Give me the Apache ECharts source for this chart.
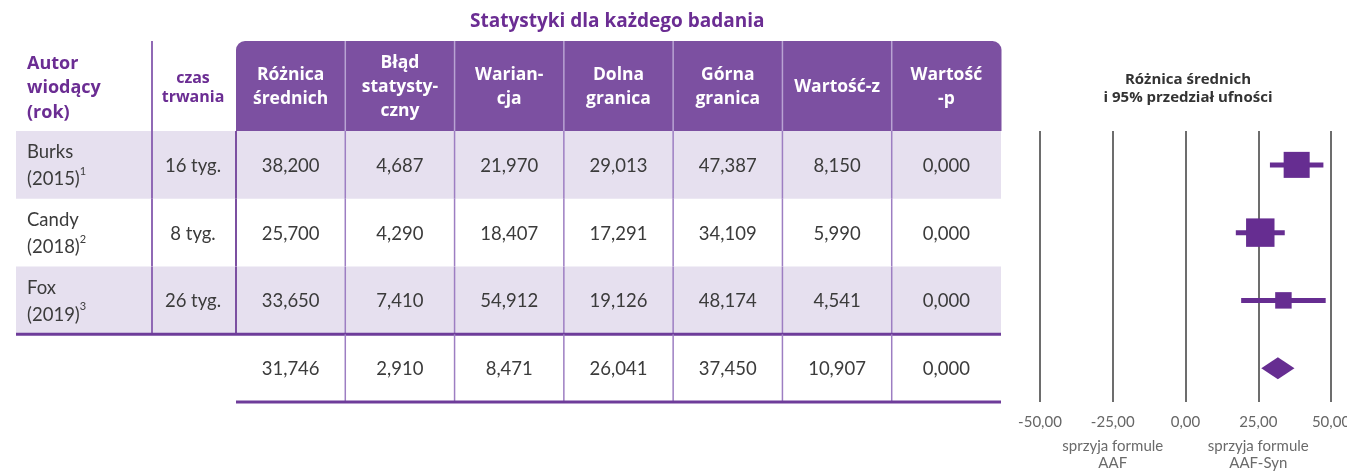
<!DOCTYPE html>
<html>
<head>
<meta charset="utf-8">
<script src="https://cdn.jsdelivr.net/npm/echarts@6/dist/echarts.min.js"></script>
<style>
  html, body { margin: 0; padding: 0; background: #fff; }
  #chart { width: 1347px; height: 473px; }
</style>
</head>
<body>
<div id="chart"></div>
<script>
  const authors = ['Burks', 'Candy', 'Fox']
  const years = ['(2015)', '(2018)', '(2019)']
  const refs = ['1', '2', '3']
  const durations = ['16 tyg.', '8 tyg.', '26 tyg.']
  const statHeaders = ['Różnica\nśrednich', 'Błąd\nstatysty-\nczny', 'Warian-\ncja', 'Dolna\ngranica', 'Górna\ngranica', 'Wartość-z', 'Wartość\n-p']
  // 3 studies + pooled row (last)
  const rowNames = ['Burks', 'Candy', 'Fox', 'pooled']
  const meanDiff = [38.200, 25.700, 33.650, 31.746]
  const stdErr = [4.687, 4.290, 7.410, 2.910]
  const variance = [21.970, 18.407, 54.912, 8.471]
  const lowerLimit = [29.013, 17.291, 19.126, 26.041]
  const upperLimit = [47.387, 34.109, 48.174, 37.450]
  const zValue = [8.150, 5.990, 4.541, 10.907]
  const pValue = [0.000, 0.000, 0.000, 0.000]
  const xTicks = [-50, -25, 0, 25, 50]
  const favourLabels = ['sprzyja formule\nAAF', 'sprzyja formule\nAAF-Syn']
  const favourAt = [-25, 25]

  const statColumns = [meanDiff, stdErr, variance, lowerLimit, upperLimit, zValue, pValue]

  const PURPLE = '#6b2d93'
  const HEAD = '#7c50a1'
  const STRIPE = '#e6e0ef'
  const FONT = 'Lato, "Open Sans", sans-serif'
  const BOLD = '"Open Sans", "Noto Sans", sans-serif'

  const fmt = (v, d) => v.toFixed(d).replace('.', ',')

  function renderHeader (params, api) {
    const c = api.value(0)
    const cs = params.coordSys
    const w = api.size([1, 0])[0]
    const cx = api.coord([c, 0])[0]
    const x0 = cx - w / 2
    const children = [
      {
        type: 'rect',
        shape: {x: x0, y: cs.y, width: w + 0.5, height: cs.height, r: c === 0 ? [9, 0, 0, 0] : (c === 6 ? [0, 9, 0, 0] : 0)},
        style: {fill: HEAD}
      },
      {
        type: 'text',
        style: {
          x: cx, y: cs.y + cs.height / 2 + 1, text: statHeaders[c], fill: '#fff',
          fontSize: 17.5, fontWeight: 'bold', fontFamily: BOLD, lineHeight: 24,
          align: 'center', verticalAlign: 'middle'
        }
      }
    ]
    if (c > 0) {
      children.push({
        type: 'line',
        shape: {x1: x0, y1: cs.y, x2: x0, y2: cs.y + cs.height},
        style: {stroke: '#b9a3d3', lineWidth: 1.5}
      })
    } else {
      children.push({
        type: 'text',
        style: {
          x: x0 - 209, y: cs.y + cs.height / 2 + 2, text: 'Autor\nwiodący\n(rok)', fill: PURPLE,
          fontSize: 18, fontWeight: 'bold', fontFamily: BOLD, lineHeight: 24.5,
          align: 'left', verticalAlign: 'middle'
        }
      }, {
        type: 'text',
        style: {
          x: x0 - 43, y: cs.y + cs.height / 2 + 2, text: 'czas\ntrwania', fill: PURPLE,
          fontSize: 16, fontWeight: 'bold', fontFamily: BOLD, lineHeight: 19,
          align: 'center', verticalAlign: 'middle'
        }
      }, {
        type: 'line',
        shape: {x1: x0 - 84, y1: cs.y, x2: x0 - 84, y2: cs.y + cs.height},
        style: {stroke: '#9069b5', lineWidth: 2}
      })
    }
    return {type: 'group', children: children}
  }

  function renderRow (params, api) {
    const row = api.value(1)
    const cs = params.coordSys
    const colW = api.size([1, 0])[0]
    const bandH = api.size([0, 1])[1]
    const cy = api.coord([0, row])[1]
    const top = cy - bandH / 2
    const bottom = cy + bandH / 2
    const tableLeft = cs.x - 220
    const right = cs.x + cs.width
    const children = []
    const study = row < authors.length

    if (study && row % 2 === 0) {
      children.push({
        type: 'rect',
        shape: {x: tableLeft, y: top, width: right - tableLeft, height: bandH},
        style: {fill: STRIPE}
      })
    }
    statColumns.forEach((col, c) => {
      children.push({
        type: 'text',
        style: {
          x: api.coord([c, row])[0], y: cy + 1, text: fmt(col[row], 3), fill: '#3b3b3b',
          fontSize: 18.5, fontFamily: FONT, align: 'center', verticalAlign: 'middle'
        }
      })
    })
    for (let c = 1; c < statColumns.length; c++) {
      const x = cs.x + colW * c
      children.push({
        type: 'line',
        shape: {x1: x, y1: top, x2: x, y2: bottom},
        style: {stroke: '#9d7ec2', lineWidth: 1.5}
      })
    }
    if (study) {
      children.push({
        type: 'text',
        style: {
          x: cs.x - 209, y: cy + 1,
          text: '{a|' + authors[row] + '}\n{a|' + years[row] + '}{s|' + refs[row] + '}',
          fill: '#3b3b3b', fontFamily: FONT, align: 'left', verticalAlign: 'middle',
          rich: {
            a: {fontSize: 18.5, lineHeight: 27, fontFamily: FONT, fill: '#3b3b3b', color: '#3b3b3b'},
            s: {fontSize: 11, lineHeight: 13, fontFamily: FONT, verticalAlign: 'top', fill: '#3b3b3b', color: '#3b3b3b'}
          }
        }
      }, {
        type: 'text',
        style: {
          x: cs.x - 43, y: cy + 1, text: durations[row], fill: '#3b3b3b',
          fontSize: 18.5, fontFamily: FONT, align: 'center', verticalAlign: 'middle'
        }
      }, {
        type: 'line',
        shape: {x1: cs.x - 84, y1: top, x2: cs.x - 84, y2: bottom},
        style: {stroke: '#9069b5', lineWidth: 2}
      }, {
        type: 'line',
        shape: {x1: cs.x, y1: top, x2: cs.x, y2: bottom},
        style: {stroke: '#7c50a1', lineWidth: 2}
      })
      if (row === authors.length - 1) {
        children.push({
          type: 'line',
          shape: {x1: tableLeft, y1: bottom, x2: right, y2: bottom},
          style: {stroke: '#6e3c9a', lineWidth: 3}
        })
      }
    } else {
      children.push({
        type: 'line',
        shape: {x1: cs.x, y1: bottom, x2: right, y2: bottom},
        style: {stroke: '#6e3c9a', lineWidth: 3}
      })
    }
    return {type: 'group', children: children}
  }

  function renderForest (params, api) {
    const i = params.dataIndex
    const row = api.value(3)
    const lo = api.coord([api.value(0), row])
    const mid = api.coord([api.value(1), row])
    const hi = api.coord([api.value(2), row])
    if (row >= authors.length) {
      return {
        type: 'polygon',
        shape: {points: [[lo[0], lo[1]], [mid[0], mid[1] - 11], [hi[0], hi[1]], [mid[0], mid[1] + 11]]},
        style: {fill: '#662d91'}
      }
    }
    // square size ~ study weight (inverse of standard error)
    const s = 122 / stdErr[i]
    return {
      type: 'group',
      children: [
        {type: 'line', shape: {x1: lo[0], y1: lo[1], x2: hi[0], y2: hi[1]}, style: {stroke: '#662d91', lineWidth: 5}},
        {type: 'rect', shape: {x: mid[0] - s / 2, y: mid[1] - s / 2, width: s, height: s}, style: {fill: '#662d91'}}
      ]
    }
  }

  function renderFavour (params, api) {
    const cs = params.coordSys
    const x = api.coord([api.value(0), 0])[0]
    return {
      type: 'text',
      style: {
        x: x, y: cs.y + cs.height + 53, text: favourLabels[params.dataIndex], fill: '#6a6a6a',
        fontSize: 15, fontFamily: FONT, lineHeight: 17, align: 'center', verticalAlign: 'middle'
      }
    }
  }

  const chart = echarts.init(document.getElementById('chart'))
  const option = {
    animation: false,
    title: [
      {
        text: 'Statystyki dla każdego badania',
        left: 465, top: 7,
        textStyle: {color: PURPLE, fontSize: 19, fontWeight: 'bold', fontFamily: BOLD}
      },
      {
        text: 'Różnica średnich\ni 95% przedział ufności',
        left: 1183, top: 66, textAlign: 'center',
        textStyle: {color: '#333', fontSize: 15, fontWeight: 'bold', fontFamily: BOLD, lineHeight: 18}
      }
    ],
    grid: [
      {left: 236, top: 41, width: 765, height: 90, outerBoundsMode: 'none'},
      {left: 236, top: 131, width: 765, height: 271, outerBoundsMode: 'none'},
      {left: 1040, top: 131, width: 291, height: 271, outerBoundsMode: 'none'}
    ],
    xAxis: [
      {gridIndex: 0, type: 'category', data: statHeaders, show: false},
      {gridIndex: 1, type: 'category', data: statHeaders, show: false},
      {
        gridIndex: 2, type: 'value', min: xTicks[0], max: xTicks[xTicks.length - 1], interval: 25,
        axisLine: {show: false}, axisTick: {show: false},
        axisLabel: {margin: 13, color: '#666', fontSize: 15, fontFamily: FONT, formatter: v => fmt(v, 2)},
        splitLine: {show: true, lineStyle: {color: '#6d6d6d', width: 2}}
      }
    ],
    yAxis: [
      {gridIndex: 0, type: 'category', data: ['header'], show: false},
      {gridIndex: 1, type: 'category', data: rowNames, inverse: true, show: false},
      {gridIndex: 2, type: 'category', data: rowNames, inverse: true, show: false}
    ],
    series: [
      {
        type: 'custom', xAxisIndex: 0, yAxisIndex: 0,
        renderItem: renderHeader,
        encode: {x: 0, y: 1},
        data: statHeaders.map((h, c) => [c, 0])
      },
      {
        type: 'custom', xAxisIndex: 1, yAxisIndex: 1,
        renderItem: renderRow,
        encode: {x: 0, y: 1},
        data: rowNames.map((n, r) => [0, r])
      },
      {
        type: 'custom', xAxisIndex: 2, yAxisIndex: 2,
        renderItem: renderForest,
        encode: {x: [0, 1, 2], y: 3},
        data: rowNames.map((n, r) => [lowerLimit[r], meanDiff[r], upperLimit[r], r])
      },
      {
        type: 'custom', xAxisIndex: 2, yAxisIndex: 2,
        renderItem: renderFavour,
        encode: {x: 0, y: 1},
        data: favourAt.map(v => [v, 0])
      }
    ]
  }
  chart.setOption(option)
</script>
</body>
</html>
